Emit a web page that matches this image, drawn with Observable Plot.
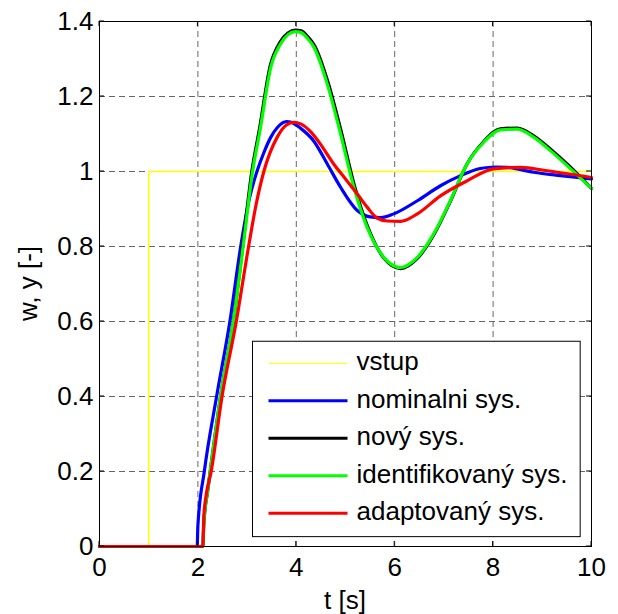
<!DOCTYPE html>
<html><head><meta charset="utf-8">
<script src="https://cdn.jsdelivr.net/npm/d3@7"></script>
<script src="https://cdn.jsdelivr.net/npm/@observablehq/plot@0.6"></script>
<style>body{margin:0;background:#fff}</style>
</head><body><div id="chart"></div>
<script>
// ---- data ----
const xTicks = [0, 2, 4, 6, 8, 10];
const yTicks = [0, 0.2, 0.4, 0.6, 0.8, 1, 1.2, 1.4];
const xTickLabels = ["0", "2", "4", "6", "8", "10"];
const yTickLabels = ["0", "0.2", "0.4", "0.6", "0.8", "1", "1.2", "1.4"];

const seriesNames = ["vstup", "nominalni sys.", "nový sys.", "identifikovaný sys.", "adaptovaný sys."];
const seriesColors = ["#ffff00", "#0000ff", "#000000", "#00ff00", "#ff0000"];

const tIn = [0, 1, 1, 10];
const yIn = [0, 0, 1, 1];

const tNom = [0, 1.985, 2.0, 2.13, 2.38, 2.65, 2.87, 3.05, 3.2, 3.34, 3.48, 3.62, 3.8, 3.9, 4.09, 4.35, 4.63, 4.9, 5.24, 5.5, 5.72, 5.98, 6.46, 6.93, 7.34, 7.74, 8.05, 8.29, 8.82, 9.37, 10];
const yNom = [0, 0, 0.056, 0.2, 0.4, 0.6, 0.8, 0.93, 1.0, 1.05, 1.091, 1.118, 1.133, 1.131, 1.115, 1.082, 1.02, 0.958, 0.896, 0.879, 0.877, 0.887, 0.922, 0.962, 0.989, 1.008, 1.012, 1.011, 0.998, 0.989, 0.980];

const tNew = [0, 2.1, 2.12, 2.2, 2.25, 2.46, 2.72, 2.91, 3.09, 3.26, 3.47, 3.67, 3.83, 3.98, 4.1, 4.23, 4.37, 4.64, 4.91, 5.18, 5.45, 5.78, 6.12, 6.46, 6.79, 7.13, 7.47, 7.81, 8.15, 8.49, 8.84, 9.18, 9.52, 10];
const yNew = [0, 0, 0.06, 0.15, 0.2, 0.4, 0.6, 0.8, 0.995, 1.12, 1.282, 1.345, 1.369, 1.377, 1.375, 1.36, 1.336, 1.24, 1.108, 0.963, 0.853, 0.769, 0.741, 0.768, 0.83, 0.92, 1.02, 1.08, 1.114, 1.116, 1.094, 1.058, 1.018, 0.955];

const tId = [0, 2.1, 2.12, 2.2, 2.25, 2.46, 2.72, 2.92, 3.1, 3.27, 3.48, 3.68, 3.83, 3.98, 4.09, 4.22, 4.36, 4.63, 4.9, 5.17, 5.44, 5.78, 6.12, 6.46, 6.79, 7.13, 7.47, 7.81, 8.15, 8.49, 8.83, 9.17, 9.51, 10];
const yId = [0, 0, 0.06, 0.15, 0.2, 0.4, 0.6, 0.8, 0.99, 1.115, 1.277, 1.34, 1.365, 1.373, 1.371, 1.356, 1.331, 1.233, 1.1, 0.958, 0.851, 0.771, 0.744, 0.771, 0.833, 0.922, 1.02, 1.078, 1.111, 1.113, 1.091, 1.055, 1.015, 0.955];

const tAd = [0, 2.1, 2.12, 2.16, 2.27, 2.49, 2.78, 3.03, 3.18, 3.34, 3.61, 3.8, 3.95, 4.09, 4.3, 4.49, 4.76, 5.0, 5.24, 5.44, 5.64, 5.85, 6.12, 6.46, 6.93, 7.47, 8.01, 8.56, 9.1, 10];
const yAd = [0, 0, 0.08, 0.13, 0.2, 0.4, 0.6, 0.8, 0.91, 1.0, 1.091, 1.124, 1.131, 1.127, 1.105, 1.073, 1.02, 0.98, 0.94, 0.905, 0.876, 0.868, 0.867, 0.887, 0.935, 0.975, 1.007, 1.011, 1.002, 0.984];

const zip = (ts, ys) => ts.map((t, i) => ({t, v: ys[i]}));
const dIn = zip(tIn, yIn), dNom = zip(tNom, yNom), dNew = zip(tNew, yNew), dId = zip(tId, yId), dAd = zip(tAd, yAd);

const font = "'Liberation Sans', Arial, sans-serif";
const fs = 26;
const lw = 3.2;

const chart = Plot.plot({
  width: 618, height: 614,
  marginLeft: 99, marginRight: 27, marginTop: 21, marginBottom: 68,
  x: {domain: [0, 10]},
  y: {domain: [0, 1.4]},
  style: {fontFamily: font, fontSize: fs + "px", background: "white", color: "black", overflow: "visible"},
  marks: [
    Plot.gridX(xTicks.slice(1, -1), {stroke: "#666", strokeOpacity: 1, strokeWidth: 1, strokeDasharray: "6,4"}),
    Plot.gridY(yTicks.slice(1, -1), {stroke: "#666", strokeOpacity: 1, strokeWidth: 1, strokeDasharray: "6,4"}),
    Plot.line(dIn, {x: "t", y: "v", stroke: seriesColors[0], strokeWidth: 1.5}),
    Plot.line(dNom, {x: "t", y: "v", stroke: seriesColors[1], strokeWidth: lw, curve: "monotone-x"}),
    Plot.line(dNew, {x: "t", y: "v", stroke: seriesColors[2], strokeWidth: lw, curve: "monotone-x"}),
    Plot.line(dId, {x: "t", y: "v", stroke: seriesColors[3], strokeWidth: lw, curve: "monotone-x"}),
    Plot.line(dAd, {x: "t", y: "v", stroke: seriesColors[4], strokeWidth: lw, curve: "monotone-x"}),
    Plot.axisX(xTicks, {tickSize: 0, tickPadding: 11, tickFormat: (d, i) => xTickLabels[i], fontSize: fs, label: null}),
    Plot.axisY(yTicks, {tickSize: 0, tickPadding: 6, tickFormat: (d, i) => yTickLabels[i], fontSize: fs, label: null}),
    Plot.frame({stroke: "black", strokeWidth: 1})
  ]
});
document.getElementById("chart").append(chart);

const sx = chart.scale("x"), sy = chart.scale("y");
const svg = d3.select(chart);
const X0 = sx.apply(0), X1 = sx.apply(10), Y0 = sy.apply(0), Y1 = sy.apply(1.4);
const tl = 5;
const tg = svg.append("g").attr("stroke", "black").attr("stroke-width", 1);
xTicks.forEach(d => {
  const x = sx.apply(d);
  tg.append("line").attr("x1", x).attr("x2", x).attr("y1", Y0).attr("y2", Y0 - tl);
  tg.append("line").attr("x1", x).attr("x2", x).attr("y1", Y1).attr("y2", Y1 + tl);
});
yTicks.forEach(d => {
  const y = sy.apply(d);
  tg.append("line").attr("x1", X0).attr("x2", X0 + tl).attr("y1", y).attr("y2", y);
  tg.append("line").attr("x1", X1).attr("x2", X1 - tl).attr("y1", y).attr("y2", y);
});

// axis labels
svg.append("text").attr("x", (X0 + X1) / 2).attr("y", 609).attr("text-anchor", "middle")
  .attr("font-family", font).attr("font-size", fs).text("t [s]");
svg.append("text").attr("transform", `translate(37,${(Y0 + Y1) / 2}) rotate(-90)`).attr("text-anchor", "middle")
  .attr("font-family", font).attr("font-size", fs).text("w, y [-]");

// legend
const lgL = sx.apply(3.12), lgR = sx.apply(9.78), lgT = sy.apply(0.546), lgB = sy.apply(0.025);
const lg = svg.append("g");
lg.append("rect").attr("x", lgL).attr("y", lgT).attr("width", lgR - lgL).attr("height", lgB - lgT)
  .attr("fill", "white").attr("stroke", "black").attr("stroke-width", 1);
const rowH = 37.5;
seriesNames.forEach((name, i) => {
  const y = lgT + 22 + rowH * i;
  lg.append("line").attr("x1", lgL + 16).attr("x2", lgL + 95).attr("y1", y).attr("y2", y)
    .attr("stroke", seriesColors[i]).attr("stroke-width", i === 0 ? 1 : lw);
  lg.append("text").attr("x", lgL + 104).attr("y", y).attr("dy", "0.27em").attr("text-anchor", "start")
    .attr("font-family", font).attr("font-size", fs).text(name);
});
</script></body></html>
